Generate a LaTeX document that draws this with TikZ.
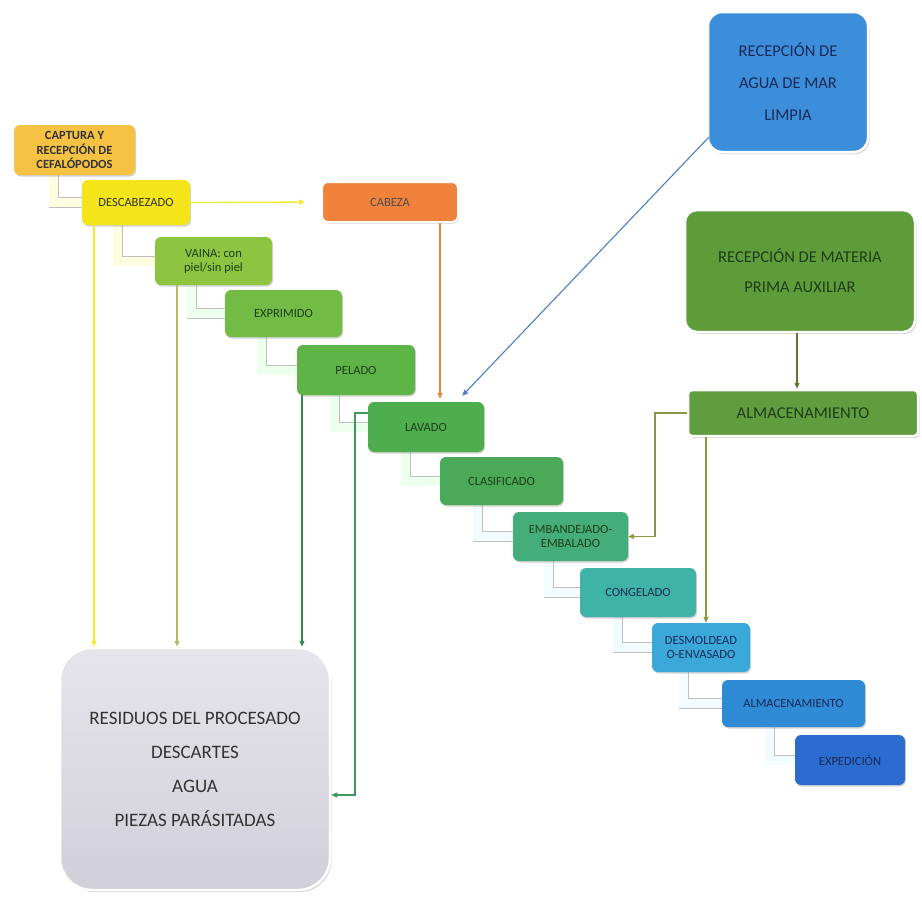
\documentclass[tikz,border=0pt]{standalone}
\usepackage{fontspec}
\setmainfont{Carlito}
\usetikzlibrary{shadows,arrows.meta,calc}
\pgfdeclarelayer{bg}
\pgfsetlayers{bg,main}
\definecolor{cCap}{HTML}{F5C243}
\definecolor{cDesc}{HTML}{F3E51A}
\definecolor{cCab}{HTML}{F0823C}
\definecolor{cVai}{HTML}{8DC540}
\definecolor{cExp}{HTML}{72BB45}
\definecolor{cPel}{HTML}{5EB447}
\definecolor{cLav}{HTML}{4EAD4C}
\definecolor{cCla}{HTML}{4BAA57}
\definecolor{cEmb}{HTML}{45AD79}
\definecolor{cCon}{HTML}{40B3A7}
\definecolor{cDes}{HTML}{3BA8DA}
\definecolor{cAlm}{HTML}{2F8BD6}
\definecolor{cExd}{HTML}{2A6CCF}
\definecolor{cAgu}{HTML}{3C8EDB}
\definecolor{cMat}{HTML}{5E9C3A}
\definecolor{cAlR}{HTML}{5F9D3F}
\definecolor{cRes}{HTML}{DCDAE3}
\definecolor{tGreen}{HTML}{1F3D1A}
\definecolor{tBlue}{HTML}{1A2A55}
\definecolor{lYel}{HTML}{F2EA2A}
\definecolor{lKha}{HTML}{B6B870}
\definecolor{lDg}{HTML}{2F8A4E}
\definecolor{lGr}{HTML}{3E9A5C}
\definecolor{lOr}{HTML}{E8893A}
\definecolor{lBl}{HTML}{4A7FC8}
\definecolor{lOl}{HTML}{5B7A38}
\definecolor{lOl2}{HTML}{8A9A40}
\begin{document}
\begin{tikzpicture}[x=1pt,y=-1pt,
  stepbox/.style={rounded corners=6pt, inner sep=2pt, align=center,
    font=\fontsize{12.5}{14}\selectfont, text=tGreen,
    drop shadow={opacity=0.35, shadow xshift=1pt, shadow yshift=-1.5pt}},
  bigbox/.style={rounded corners=14pt, draw=white, line width=2.5pt, align=center,
    font=\fontsize{16.5}{20}\selectfont,
    drop shadow={opacity=0.35, shadow xshift=1.5pt, shadow yshift=-2pt}},
  elbow/.style={draw=gray!50, line width=0.8pt, double distance=9pt},
  conn/.style={line width=1.3pt, -{Triangle[length=6pt,width=5pt]}}]
\useasboundingbox (0,0) rectangle (922,900);

% process chain
\node[stepbox, fill=cCap, minimum width=121pt, minimum height=50pt, text=black!80,
      font=\fontsize{12.5}{14.5}\selectfont\bfseries] (cap) at (74.5,150) {CAPTURA Y\\RECEPCIÓN DE\\CEFALÓPODOS};
\node[stepbox, fill=cDesc, minimum width=108pt, minimum height=45pt, text=black!80] (desc) at (136,202.5) {DESCABEZADO};
\node[stepbox, fill=cCab, draw=white, line width=2pt, minimum width=136pt, minimum height=40pt, text=black!70] (cab) at (390,202) {CABEZA};
\node[stepbox, fill=cVai, minimum width=117pt, minimum height=48pt] (vai) at (213.5,261) {VAINA: con\\piel/sin piel};
\node[stepbox, fill=cExp, minimum width=117pt, minimum height=47pt] (expr) at (283.5,313.5) {EXPRIMIDO};
\node[stepbox, fill=cPel, minimum width=118pt, minimum height=50pt] (pel) at (356,370) {PELADO};
\node[stepbox, fill=cLav, minimum width=116pt, minimum height=50pt] (lav) at (426,427) {LAVADO};
\node[stepbox, fill=cCla, minimum width=123pt, minimum height=48pt] (cla) at (501.5,481) {CLASIFICADO};
\node[stepbox, fill=cEmb, minimum width=115pt, minimum height=49pt] (emb) at (570.5,536.5) {EMBANDEJADO-\\EMBALADO};
\node[stepbox, fill=cCon, minimum width=116pt, minimum height=49pt, text=tBlue] (con) at (638,592.5) {CONGELADO};
\node[stepbox, fill=cDes, minimum width=98pt, minimum height=49pt, text=tBlue] (des) at (701,647.5) {DESMOLDEAD\\O-ENVASADO};
\node[stepbox, fill=cAlm, minimum width=143pt, minimum height=47pt, text=tBlue] (alm) at (793.5,703.5) {ALMACENAMIENTO};
\node[stepbox, fill=cExd, minimum width=110pt, minimum height=50pt, text=tBlue] (exd) at (850,760) {EXPEDICIÓN};

% side boxes
\node[bigbox, fill=cAgu, minimum width=160pt, minimum height=140pt, text=tBlue] (agu) at (788,82) {RECEPCIÓN DE\\[12pt]AGUA DE MAR\\[12pt]LIMPIA};
\node[bigbox, rounded corners=12pt, fill=cMat, minimum width=230pt, minimum height=122pt, text=tGreen] (mat) at (800,271) {RECEPCIÓN DE MATERIA\\[10pt]PRIMA AUXILIAR};
\node[bigbox, rounded corners=4pt, fill=cAlR, minimum width=230pt, minimum height=46pt, text=tGreen] (alr) at (803,413) {ALMACENAMIENTO};
\node[bigbox, rounded corners=32pt, draw=white, top color=cRes!70, bottom color=cRes!95!black,
      minimum width=270pt, minimum height=242pt, text=black!80,
      font=\fontsize{19}{22}\selectfont] (res) at (195,769)
      {RESIDUOS DEL PROCESADO\\[12pt]DESCARTES\\[12pt]AGUA\\[12pt]PIEZAS PARÁSITADAS};

% stair elbows
\begin{pgfonlayer}{bg}
\draw[elbow, double=yellow!12] ($(cap.south west)+(40,-4)$) |- (desc.west);
\draw[elbow, double=yellow!12] ($(desc.south west)+(36,-4)$) |- (vai.west);
\draw[elbow, double=green!7] ($(vai.south west)+(37,-4)$) |- (expr.west);
\draw[elbow, double=green!7] ($(expr.south west)+(37,-4)$) |- (pel.west);
\draw[elbow, double=green!7] ($(pel.south west)+(38,-4)$) |- (lav.west);
\draw[elbow, double=green!7] ($(lav.south west)+(38,-4)$) |- (cla.west);
\draw[elbow, double=cyan!5] ($(cla.south west)+(38,-4)$) |- (emb.west);
\draw[elbow, double=cyan!5] ($(emb.south west)+(36,-4)$) |- (con.west);
\draw[elbow, double=cyan!5] ($(con.south west)+(38,-4)$) |- (des.west);
\draw[elbow, double=cyan!5] ($(des.south west)+(32,-4)$) |- (alm.west);
\draw[elbow, double=cyan!5] ($(alm.south west)+(48,-4)$) |- (exd.west);
\end{pgfonlayer}

% connectors
\draw[conn, lYel, shorten >=16pt] (desc.east) -- (cab.west);
\draw[conn, lYel] (desc.south -| 94,0) -- (res.north -| 94,0);
\draw[conn, lKha] (vai.south -| 177,0) -- (res.north -| 177,0);
\draw[conn, lDg] (pel.south -| 302,0) -- (res.north -| 302,0);
\draw[conn, lGr] (lav.west |- 0,413) -| (355,795) -- (res.east |- 0,795);
\draw[conn, lOr] (cab.south -| 440,0) -- ($(lav.north -| 440,0)+(0,-3)$);
\draw[conn, lBl, line width=1.1pt] ($(agu.south west)+(2,-16)$) -- ($(lav.north east)+(-22,-6)$);
\draw[conn, lOl] (mat.south -| 797,0) -- (alr.north -| 797,0);
\draw[conn, lOl2] (alr.west) -- (655,413) |- (emb.east);
\draw[conn, lOl2] (alr.south -| 706,0) -- (des.north -| 706,0);
\end{tikzpicture}
\end{document}
